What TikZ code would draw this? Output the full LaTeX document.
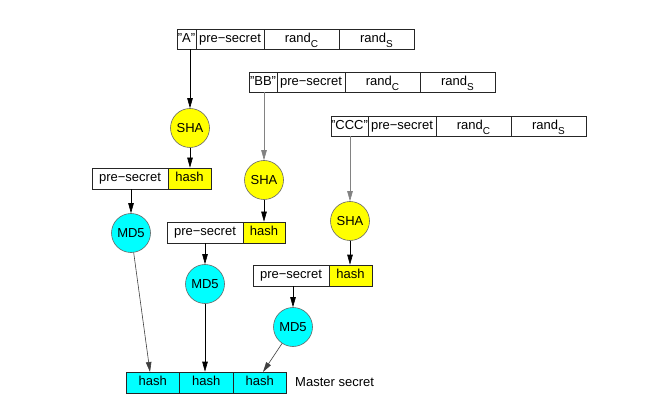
\documentclass[tikz,border=0pt]{standalone}
\usepackage{fontspec}
\setmainfont{Liberation Sans}
\usetikzlibrary{arrows.meta}
\definecolor{shay}{RGB}{255,255,0}
\definecolor{mdc}{RGB}{0,255,255}
\definecolor{lgray}{RGB}{130,130,130}
\newcommand{\sbs}[1]{\raisebox{-0.7ex}{\fontsize{10}{10}\selectfont #1}}
\tikzset{
  cell/.style={draw=black!85, line width=0.6pt, minimum height=20pt, inner sep=0pt, font=\fontsize{13}{14}\selectfont, text height=9pt, text depth=2.5pt},
  bcell/.style={cell, minimum height=21pt},
  hashcell/.style={bcell, fill=shay},
  mscell/.style={bcell, fill=mdc, minimum width=53.5pt},
  shanode/.style={circle, draw=black!60, line width=0.6pt, fill=shay, minimum size=39pt, inner sep=0pt, font=\fontsize{13}{14}\selectfont},
  mdnode/.style={shanode, fill=mdc},
  arr/.style={-{Triangle[width=5.5pt,length=10pt]}, line width=0.6pt},
  darr/.style={arr, black},
  garr/.style={arr, draw=lgray},
}
\begin{document}
\begin{tikzpicture}[x=1pt, y=-1pt]
\useasboundingbox (0,0) rectangle (653,406);
% Row A
\node[cell, minimum width=19pt] (a1) at (186.5,39) {"A"};
\node[cell, minimum width=68pt] (a2) at (230,39) {pre−secret};
\node[cell, minimum width=75pt] (a3) at (301.5,39) {rand\sbs{C}};
\node[cell, minimum width=75pt] (a4) at (376.5,39) {rand\sbs{S}};
% Row B
\node[cell, minimum width=28pt] (b1) at (263,82) {"BB"};
\node[cell, minimum width=68pt] (b2) at (311,82) {pre−secret};
\node[cell, minimum width=75pt] (b3) at (382.5,82) {rand\sbs{C}};
\node[cell, minimum width=75pt] (b4) at (457.5,82) {rand\sbs{S}};
% Row C
\node[cell, minimum width=37pt] (c1) at (349.5,126) {"CCC"};
\node[cell, minimum width=68pt] (c2) at (402,126) {pre−secret};
\node[cell, minimum width=75pt] (c3) at (473.5,126) {rand\sbs{C}};
\node[cell, minimum width=75pt] (c4) at (548.5,126) {rand\sbs{S}};
% SHA circles
\node[shanode] (shaA) at (190,128) {SHA};
\node[shanode] (shaB) at (264,180) {SHA};
\node[shanode] (shaC) at (350,221) {SHA};
% second boxes
\node[bcell, minimum width=76pt] (pa) at (130,178.5) {pre−secret};
\node[hashcell, minimum width=43pt] (ha) at (189.5,178.5) {hash};
\node[bcell, minimum width=76pt] (pb) at (205,232.5) {pre−secret};
\node[hashcell, minimum width=42pt] (hb) at (264,232.5) {hash};
\node[bcell, minimum width=76pt] (pc) at (291,275.5) {pre−secret};
\node[hashcell, minimum width=43pt] (hc) at (350.5,275.5) {hash};
% MD5 circles
\node[mdnode] (mdA) at (131,233) {MD5};
\node[mdnode] (mdB) at (205,284) {MD5};
\node[mdnode] (mdC) at (293,327) {MD5};
% master secret bar
\node[mscell] (m1) at (152.75,382.5) {hash};
\node[mscell] (m2) at (206.25,382.5) {hash};
\node[mscell] (m3) at (259.75,382.5) {hash};
\node[anchor=west, font=\fontsize{13}{14}\selectfont, inner sep=0pt] (ms) at (295,382.5) {Master secret};
% connectors
\draw[darr] (a1.south -| shaA.north) -- (shaA.north);
\draw[garr] (b1.south -| shaB.north) -- (shaB.north);
\draw[garr] (c1.south -| shaC.north) -- (shaC.north);
\draw[darr] (shaA.south) -- (ha.north -| shaA.south);
\draw[darr] (shaB.south) -- (hb.north -| shaB.south);
\draw[darr] (shaC.south) -- (hc.north -| shaC.south);
\draw[darr] (pa.south -| mdA.north) -- (mdA.north);
\draw[darr] (pb.south -| mdB.north) -- (mdB.north);
\draw[darr] (pc.south -| mdC.north) -- (mdC.north);
\coordinate (t1) at (150,372);
\coordinate (t3) at (263,372);
\draw[arr, draw=black!75] (mdA) -- (t1);
\draw[arr, draw=black] (mdB.south) -- (m2.north -| mdB.south);
\draw[arr, draw=black!75] (mdC) -- (t3);
\end{tikzpicture}
\end{document}
